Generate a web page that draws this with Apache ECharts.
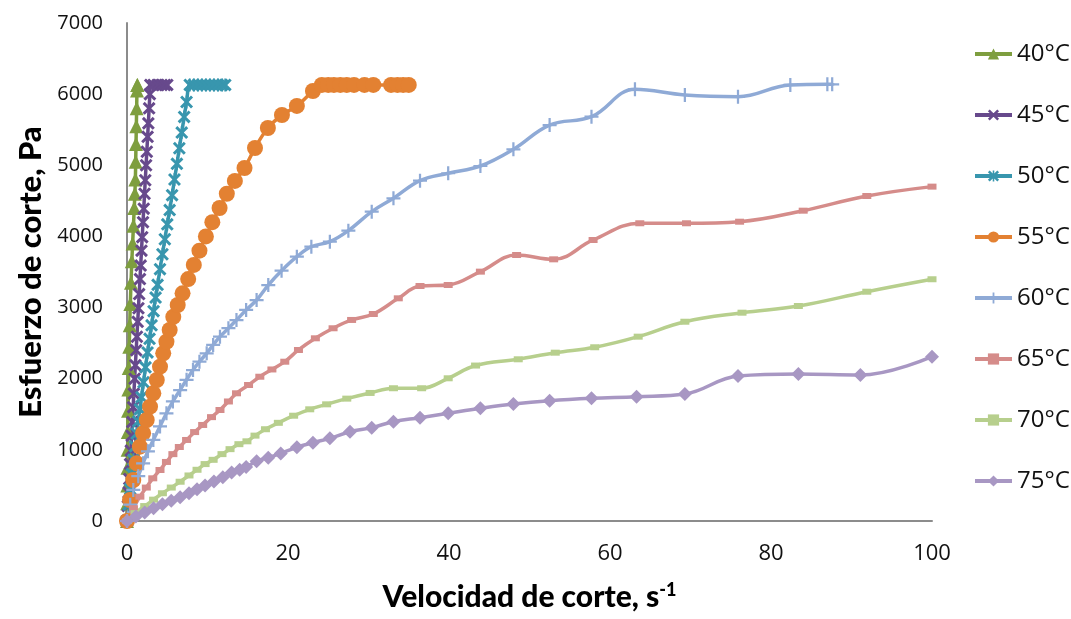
<!DOCTYPE html>
<html>
<head>
<meta charset="utf-8">
<script src="https://cdn.jsdelivr.net/npm/echarts@6/dist/echarts.min.js"></script>
<style>html,body{margin:0;padding:0;background:#fff}#c{width:1071px;height:619px}</style>
</head>
<body>
<div id="c"></div>
<script>
// ---- data (shear rate s^-1, shear stress Pa) ----
const seriesNames = ['40°C','45°C','50°C','55°C','60°C','65°C','70°C','75°C'];
const xTicks = [0,20,40,60,80,100];
const yTicks = [0,1000,2000,3000,4000,5000,6000,7000];

const x40 = [0,0.02,0.04,0.06,0.08,0.1,0.13,0.17,0.22,0.28,0.34,0.41,0.5,0.6,0.7,0.8,0.9,0.98,1.04,1.08,1.12,1.16,1.2,1.24,1.27,1.3];
const y40 = [0,250,500,750,1000,1250,1550,1850,2150,2450,2750,3050,3350,3650,3900,4150,4400,4600,4800,5050,5300,5550,5800,6050,6130,6130];

const x45 = [0,0.1,0.19,0.28,0.38,0.47,0.57,0.66,0.76,0.85,0.95,1.04,1.14,1.23,1.33,1.42,1.51,1.61,1.7,1.8,1.89,1.99,2.08,2.18,2.27,2.37,2.46,2.56,2.65,2.75,2.84,2.9,3.3,3.8,4.3,4.7,5.0];
const y45 = [0,210,400,590,800,990,1200,1390,1600,1790,2000,2190,2400,2590,2800,2990,3190,3400,3590,3800,3990,4200,4390,4600,4790,5000,5190,5400,5590,5800,6000,6130,6130,6130,6130,6130,6130];

const x50 = [0,0.2,0.4,0.6,0.8,1.0,1.2,1.4,1.6,1.8,2.05,2.3,2.55,2.8,3.05,3.3,3.55,3.8,4.1,4.4,4.7,5.0,5.3,5.6,5.9,6.2,6.5,6.8,7.1,7.4,7.8,8.3,8.8,9.3,9.8,10.3,10.8,11.3,11.8,12.2];
const y50 = [0,230,450,660,860,1050,1230,1400,1570,1740,1950,2160,2370,2560,2750,2950,3140,3320,3540,3750,3960,4170,4370,4580,4800,5020,5240,5460,5680,5890,6130,6130,6130,6130,6130,6130,6130,6130,6130,6130];

const x55 = [0,0.37,0.78,1.2,1.6,2.0,2.45,2.86,3.27,3.7,4.1,4.5,4.9,5.3,5.75,6.3,6.9,7.6,8.3,9.0,9.8,10.6,11.5,12.4,13.4,14.6,15.9,17.5,19.25,21.1,23.1,24.2,25.0,25.7,26.5,27.3,28.2,29.5,30.6,32.8,33.6,34.3,35.0];
const y55 = [0,295,576,811,1045,1233,1420,1607,1795,1982,2169,2357,2520,2685,2870,3036,3200,3400,3600,3800,4000,4200,4400,4600,4780,4962,5243,5524,5707,5834,6044,6130,6130,6130,6130,6130,6130,6130,6130,6130,6130,6130,6130];

const x60 = [0,0.4,0.78,1.4,2.0,2.6,3.27,4.1,4.9,5.7,6.6,7.4,8.2,9.0,9.9,10.7,11.55,12.6,13.6,14.8,16.1,17.55,19.2,21.1,22.9,25.2,27.5,30.4,33.1,36.4,39.9,43.9,48.0,52.5,57.7,63.1,69.3,75.9,82.4,87.0,87.6];
const y60 = [0,230,436,630,811,980,1139,1330,1514,1680,1841,1985,2122,2240,2357,2475,2591,2710,2825,2966,3106,3317,3518,3715,3856,3926,4081,4348,4536,4784,4888,4990,5225,5566,5683,6068,5988,5964,6129,6138,6138];

const x65 = [0,0.8,1.6,2.4,3.2,4.1,4.9,5.7,6.5,7.4,8.4,9.4,10.5,11.55,12.6,13.6,15.1,16.5,18.0,19.6,21.3,23.4,25.6,27.9,30.6,33.7,36.4,39.9,43.9,48.4,53.0,57.9,63.7,69.5,76.1,84.0,91.9,100];
const y65 = [0,180,342,470,600,717,830,940,1040,1139,1250,1350,1460,1560,1680,1795,1912,2028,2130,2239,2404,2568,2709,2826,2910,3130,3303,3317,3505,3739,3678,3950,4185,4185,4207,4362,4568,4700];

const x70 = [0,1.0,2.2,3.3,4.4,5.5,6.6,7.7,8.7,9.7,10.7,11.8,12.8,13.9,14.9,15.9,17.2,18.8,20.7,22.7,24.8,27.3,30.2,33.1,36.6,39.9,43.3,48.6,53.2,58.1,63.5,69.3,76.4,83.4,91.9,100];
const y70 = [0,110,210,300,390,470,552,640,720,800,860,940,1010,1080,1120,1200,1290,1380,1480,1570,1640,1720,1800,1866,1866,2006,2185,2273,2366,2442,2591,2801,2928,3022,3223,3398];

const x75 = [0,1.1,2.2,3.3,4.4,5.5,6.6,7.7,8.7,9.7,10.8,11.9,13.0,14.0,14.8,16.1,17.55,19.1,21.1,23.1,25.2,27.7,30.4,33.1,36.4,39.9,43.9,48.0,52.5,57.7,63.3,69.3,75.9,83.4,91.1,100];
const y75 = [0,65,120,180,235,285,335,390,445,500,555,615,680,720,760,840,890,950,1036,1101,1162,1255,1312,1396,1452,1514,1584,1645,1691,1725,1748,1785,2038,2066,2052,2310];

const xs = [x40,x45,x50,x55,x60,x65,x70,x75];
const ys = [y40,y45,y50,y55,y60,y65,y70,y75];

// ---- styles ----
const colors = ['#7E9E3F','#67498C','#3896AE','#E38132','#8FAAD6','#D58C8A','#B7CF8D','#A897C3'];
const SYM_X = 'path://M0,1.6 L1.6,0 L5,3.4 L8.4,0 L10,1.6 L6.6,5 L10,8.4 L8.4,10 L5,6.6 L1.6,10 L0,8.4 L3.4,5 Z';
const SYM_AST = 'path://M0,1.6 L1.6,0 L5,3.4 L8.4,0 L10,1.6 L6.6,5 L10,8.4 L8.4,10 L5,6.6 L1.6,10 L0,8.4 L3.4,5 Z M4.3,0 L5.7,0 L5.7,10 L4.3,10 Z';
const SYM_PLUS = 'path://M4.2,0 L5.8,0 L5.8,4.2 L10,4.2 L10,5.8 L5.8,5.8 L5.8,10 L4.2,10 L4.2,5.8 L0,5.8 L0,4.2 L4.2,4.2 Z';
const symbols = ['triangle', SYM_X, SYM_AST, 'circle', SYM_PLUS, 'rect', 'rect', 'diamond'];
const symbolSizes = [14, 13, 13, 16, 14, [9,6], [9,6], 14];

const series = seriesNames.map((n, i) => ({
  name: n,
  type: 'line',
  smooth: 0.4,
  data: xs[i].map((x, j) => [x, ys[i][j]]),
  symbol: symbols[i],
  symbolSize: symbolSizes[i],
  showSymbol: true,
  showAllSymbol: true,
  lineStyle: { color: colors[i], width: 3.5 },
  itemStyle: { color: colors[i] },
  emphasis: { disabled: true }
}));

const chart = echarts.init(document.getElementById('c'), null, { renderer: 'canvas' });
chart.setOption({
  animation: false,
  backgroundColor: '#ffffff',
  color: colors,
  grid: { left: 127, top: 23, right: 139, bottom: 98, containLabel: false },
  legend: {
    orient: 'vertical',
    left: 968,
    top: 37,
    itemWidth: 37,
    itemHeight: 14,
    itemGap: 37,
    lineStyle: { width: 4 },
    textStyle: { fontFamily: 'Open Sans', fontSize: 24, color: '#111', lineHeight: 24 },
    data: seriesNames
  },
  xAxis: {
    type: 'value',
    min: xTicks[0], max: xTicks[xTicks.length - 1], interval: 20,
    splitLine: { show: false },
    axisTick: { show: false },
    axisLine: { show: true, lineStyle: { color: '#8C8C8C', width: 2 } },
    axisLabel: { fontFamily: "'Liberation Sans Narrow', 'Open Sans'", fontSize: 22, color: '#111', margin: 22, formatter: v => String(v) },
    name: 'Velocidad de corte, s{sup|-1}',
    nameLocation: 'middle',
    nameGap: 60,
    nameTextStyle: {
      fontFamily: 'Lato', fontSize: 30, fontWeight: 900, color: '#000',
      rich: { sup: { fontFamily: 'Lato', fontSize: 18, fontWeight: 900, color: '#000', padding: [0, 0, 15, 0] } }
    }
  },
  yAxis: {
    type: 'value',
    min: yTicks[0], max: yTicks[yTicks.length - 1], interval: 1000,
    splitLine: { show: false },
    axisTick: { show: false },
    axisLine: { show: true, lineStyle: { color: '#8C8C8C', width: 2 } },
    axisLabel: { fontFamily: 'Open Sans', fontSize: 20, color: '#111', margin: 24, formatter: v => String(v) },
    name: 'Esfuerzo de corte, Pa',
    nameLocation: 'middle',
    nameRotate: 90,
    nameGap: 80,
    nameTextStyle: { fontFamily: 'Lato', fontSize: 31, fontWeight: 900, color: '#000' }
  },
  series: series
});
</script>
</body>
</html>
